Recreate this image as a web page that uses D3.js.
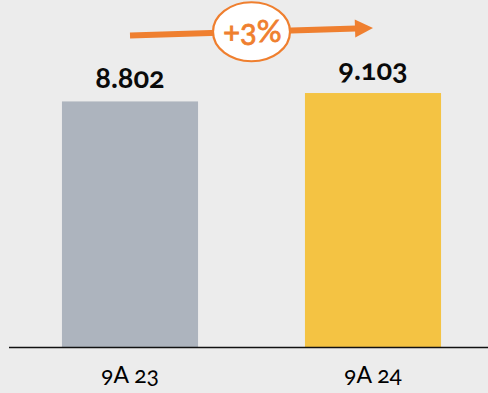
<!DOCTYPE html>
<html>
<head>
<meta charset="utf-8">
<script src="https://cdn.jsdelivr.net/npm/d3@7"></script>
<style>
  html, body { margin: 0; padding: 0; background: #ececec; }
  svg { display: block; }
  text { font-family: "Lato", "Open Sans", sans-serif; font-variant-numeric: oldstyle-nums; }
</style>
</head>
<body>
<svg id="chart" width="488" height="393"></svg>
<script>
const categories = ["9A 23", "9A 24"];
const values = [8802, 9103];
const valueLabels = ["8.802", "9.103"];
const colors = ["#adb4be", "#f4c343"];
const changeLabel = "+3%";

const W = 488, H = 393;
const svg = d3.select("#chart");
svg.append("rect").attr("width", W).attr("height", H).attr("fill", "#ececec");

const x = d3.scaleBand().domain(categories).range([8.5, 494.5]).paddingInner(0.44).paddingOuter(0.22);
const y = d3.scaleLinear().domain([0, 10000]).range([347, 68]);

svg.selectAll("rect.bar").data(values).join("rect")
  .attr("class", "bar")
  .attr("x", (d, i) => x(categories[i]))
  .attr("width", x.bandwidth())
  .attr("y", d => y(d))
  .attr("height", d => y(0) - y(d))
  .attr("fill", (d, i) => colors[i]);

svg.selectAll("text.val").data(values).join("text")
  .attr("class", "val")
  .attr("x", (d, i) => x(categories[i]) + x.bandwidth() / 2)
  .attr("y", d => y(d) - 13)
  .attr("text-anchor", "middle")
  .attr("font-size", 29)
  .attr("font-weight", 700)
  .attr("fill", "#0a0a0a")
  .text((d, i) => valueLabels[i]);

// axis
const axis = d3.axisBottom(x).tickSize(0).tickPadding(20);
const gAxis = svg.append("g").attr("transform", `translate(0,${y(0)})`).call(axis);
gAxis.select(".domain").remove();
gAxis.selectAll("text").attr("font-size", 23).attr("fill", "#000")
  .attr("font-family", "Lato, 'Open Sans', sans-serif");
svg.append("line").attr("x1", 9).attr("x2", W).attr("y1", y(0) + 0.5).attr("y2", y(0) + 0.5)
  .attr("stroke", "#111").attr("stroke-width", 1.6);

// change arrow
const orange = "#ef7f2f";
const cx0 = x(categories[0]) + x.bandwidth() / 2;
const cx1 = x(categories[1]) + x.bandwidth() / 2;
const ay0 = y(values[0]) - 66, ay1 = y(values[1]) - 65;
const headLen = 18, headHalf = 9;
const ang = Math.atan2(ay1 - ay0, cx1 - cx0);
const bx = cx1 - headLen * Math.cos(ang), by = ay1 - headLen * Math.sin(ang);
svg.append("line").attr("x1", cx0).attr("y1", ay0).attr("x2", bx + 1).attr("y2", by)
  .attr("stroke", orange).attr("stroke-width", 6);
const px = -Math.sin(ang), py = Math.cos(ang);
svg.append("path")
  .attr("d", `M${cx1},${ay1}L${bx + px * headHalf},${by + py * headHalf}L${bx - px * headHalf},${by - py * headHalf}Z`)
  .attr("fill", orange);

const ex = (cx0 + cx1) / 2;
const ey = ay0 + (ay1 - ay0) * ((ex - cx0) / (cx1 - cx0));
svg.append("ellipse").attr("cx", ex).attr("cy", ey).attr("rx", 38.5).attr("ry", 29.5)
  .attr("fill", "#fff").attr("stroke", orange).attr("stroke-width", 2.2);
svg.append("text").attr("x", ex + 1).attr("y", ey + 10).attr("text-anchor", "middle")
  .attr("font-size", 31).attr("fill", orange)
  .attr("stroke", orange).attr("stroke-width", 0.8)
  .text(changeLabel);
</script>
</body>
</html>
